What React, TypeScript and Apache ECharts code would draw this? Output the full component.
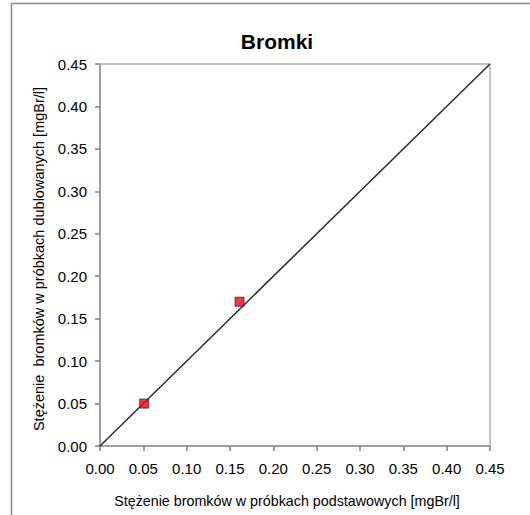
import React, { useEffect, useRef } from "react";
import * as echarts from "echarts";

const titleText = "Bromki";
const xAxisName = "Stężenie bromków w próbkach podstawowych [mgBr/l]";
const yAxisName = "Stężenie  bromków w próbkach dublowanych [mgBr/l]";
const primaryValues = [0.051, 0.161];
const duplicateValues = [0.05, 0.17];
const lineStart = [0, 0];
const lineEnd = [0.45, 0.45];
const axisMin = 0;
const axisMax = 0.45;
const axisStep = 0.05;

export default function App() {
  const ref = useRef<HTMLDivElement>(null);
  useEffect(() => {
    if (!ref.current) return;
    const chart = echarts.init(ref.current, null, { renderer: "svg" });
    const font = "Arial, 'Liberation Sans', sans-serif";
    const points = primaryValues.map((x, i) => [x, duplicateValues[i]]);
    const axisCommon = {
      type: "value" as const,
      min: axisMin,
      max: axisMax,
      interval: axisStep,
      nameLocation: "middle" as const,
      axisLine: { show: true, onZero: false, lineStyle: { color: "#808080", width: 1.5 } },
      axisTick: { show: true, inside: false, length: 5, lineStyle: { color: "#808080", width: 1.5 } },
      axisLabel: {
        color: "#000",
        fontSize: 15,
        fontFamily: font,
        formatter: (v: number) => v.toFixed(2),
      },
      splitLine: { show: false },
    };
    chart.setOption({
      animation: false,
      backgroundColor: "#fff",
      title: {
        text: titleText,
        left: 272,
        top: 26,
        textAlign: "center",
        textStyle: { fontSize: 21, fontWeight: "bold", color: "#000", fontFamily: font },
      },
      graphic: [
        {
          type: "rect",
          shape: { x: 11.5, y: 3.5, width: 700, height: 700 },
          style: { fill: "none", stroke: "#8c8c8c", lineWidth: 1.5 },
          silent: true,
        },
        {
          type: "polyline",
          shape: { points: [[100, 64], [490, 64], [490, 446]] },
          style: { fill: "none", stroke: "#b4b4b4", lineWidth: 1.5 },
          silent: true,
          z: 1,
        },
      ],
      grid: { left: 100, top: 64, width: 390, height: 382, containLabel: false },
      xAxis: {
        ...axisCommon,
        name: xAxisName,
        nameGap: 48,
        nameTextStyle: { color: "#000", fontSize: 14.3, fontFamily: font, padding: [0, 16, 0, 0] },
        axisLabel: { ...axisCommon.axisLabel, margin: 15 },
      },
      yAxis: {
        ...axisCommon,
        name: yAxisName,
        nameGap: 52,
        nameTextStyle: { color: "#000", fontSize: 14.5, fontFamily: font, padding: [0, 8, 0, 0] },
        axisLabel: { ...axisCommon.axisLabel, margin: 13 },
      },
      series: [
        {
          type: "line",
          data: [lineStart, lineEnd],
          symbol: "none",
          lineStyle: { color: "#2b2b2b", width: 1.5 },
          z: 2,
        },
        {
          type: "scatter",
          data: points,
          symbol: "rect",
          symbolSize: 9,
          itemStyle: { color: "#ff0000", borderColor: "#1f2a66", borderWidth: 1 },
          z: 3,
        },
      ],
    });
    return () => chart.dispose();
  }, []);
  return (
    <div
      ref={ref}
      style={{ position: "fixed", left: 0, top: 0, width: 530, height: 515 }}
    />
  );
}
